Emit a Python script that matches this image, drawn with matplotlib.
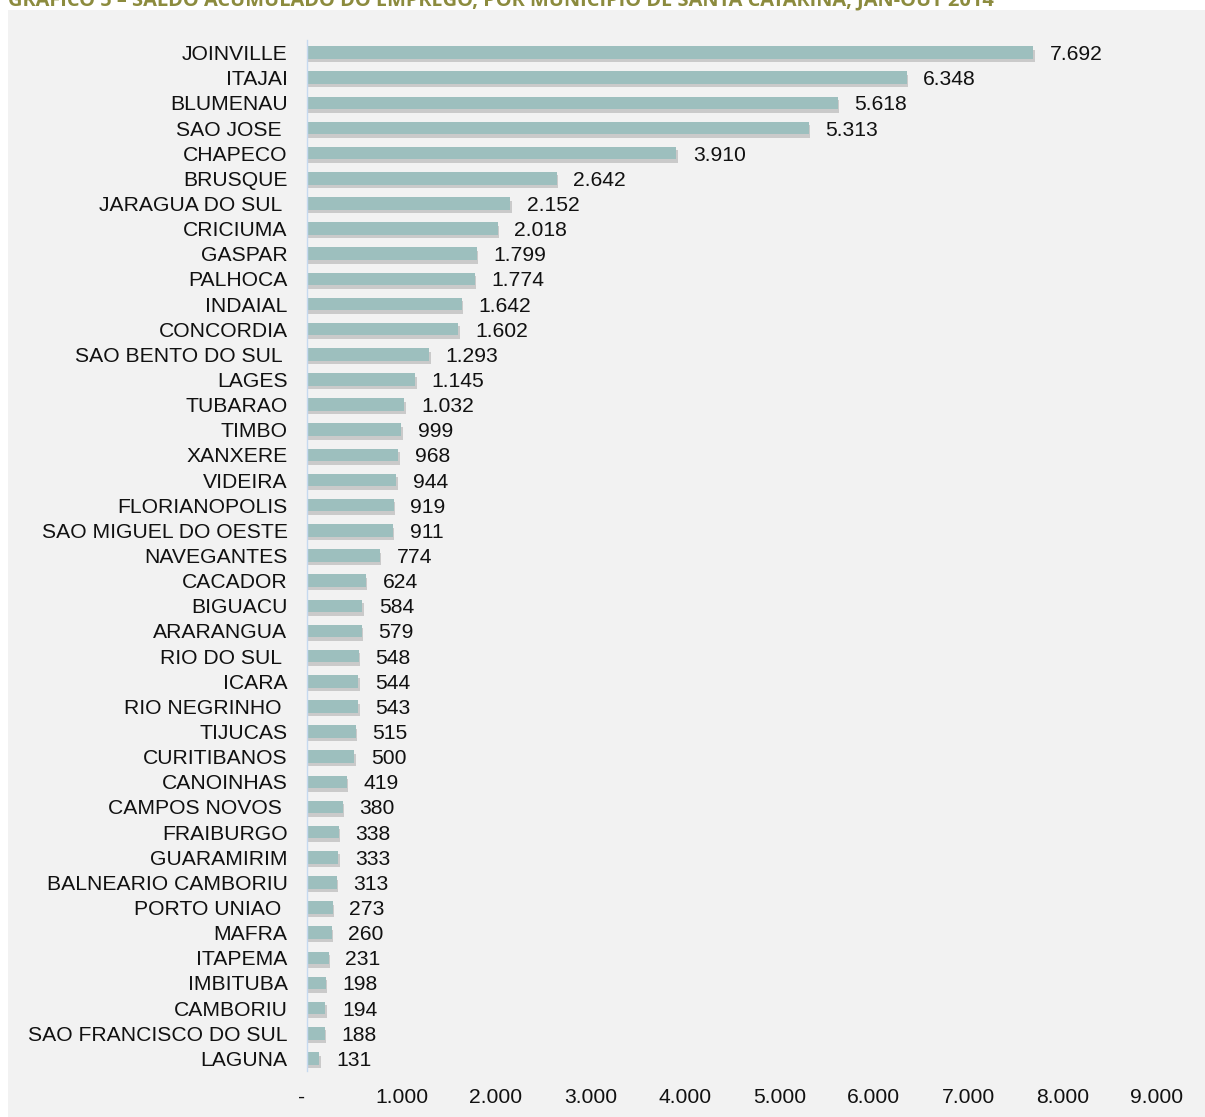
import matplotlib
matplotlib.use("Agg")
import matplotlib.pyplot as plt
import matplotlib.patheffects as pe
from matplotlib.ticker import FuncFormatter

municipios = ["JOINVILLE", "ITAJAI", "BLUMENAU", "SAO JOSE ", "CHAPECO", "BRUSQUE",
              "JARAGUA DO SUL ", "CRICIUMA", "GASPAR", "PALHOCA", "INDAIAL", "CONCORDIA",
              "SAO BENTO DO SUL ", "LAGES", "TUBARAO", "TIMBO", "XANXERE", "VIDEIRA",
              "FLORIANOPOLIS", "SAO MIGUEL DO OESTE", "NAVEGANTES", "CACADOR", "BIGUACU",
              "ARARANGUA", "RIO DO SUL ", "ICARA", "RIO NEGRINHO ", "TIJUCAS", "CURITIBANOS",
              "CANOINHAS", "CAMPOS NOVOS ", "FRAIBURGO", "GUARAMIRIM", "BALNEARIO CAMBORIU",
              "PORTO UNIAO ", "MAFRA", "ITAPEMA", "IMBITUBA", "CAMBORIU",
              "SAO FRANCISCO DO SUL", "LAGUNA"]
saldo = [7692, 6348, 5618, 5313, 3910, 2642, 2152, 2018, 1799, 1774, 1642, 1602,
         1293, 1145, 1032, 999, 968, 944, 919, 911, 774, 624, 584, 579, 548, 544,
         543, 515, 500, 419, 380, 338, 333, 313, 273, 260, 231, 198, 194, 188, 131]
xticks = [0, 1000, 2000, 3000, 4000, 5000, 6000, 7000, 8000, 9000]
titulo = "GRÁFICO 5 – SALDO ACUMULADO DO EMPREGO, POR MUNICÍPIO DE SANTA CATARINA, JAN-OUT 2014"

W, H = 1205, 1117
fig = plt.figure(figsize=(W / 100, H / 100), dpi=100)
fig.patch.set_facecolor("white")

# grey panel (background axes)
bg = fig.add_axes([8 / W, 0, 1 - 8 / W, 1 - 10 / H], zorder=-10)
bg.set_facecolor("#f2f2f2")
bg.set_xticks([])
bg.set_yticks([])
for s in bg.spines.values():
    s.set_visible(False)

fig.text(8 / W, 1 - 6 / H, titulo, fontsize=14.4, fontweight="bold", color="#8c8b3e",
         family="Open Sans", va="baseline", ha="left")

ax = fig.add_axes([307 / W, 1 - 1071 / H, (1157 - 307) / W, (1071 - 40) / H], zorder=1)
ax.set_facecolor("none")

FS = 15.2
ypos = list(range(len(saldo)))
bars = ax.barh(ypos, saldo, height=0.5, color="#9dbfbe", zorder=3)
for b in bars:
    b.set_path_effects([pe.SimplePatchShadow(offset=(1.0, -2.5), shadow_rgbFace="#808080", alpha=0.35),
                        pe.Normal()])

fmt = lambda v: f"{v:,.0f}".replace(",", ".")
for y, v in zip(ypos, saldo):
    ax.annotate(fmt(v), (v, y), xytext=(12, 0), textcoords="offset points",
                va="center_baseline", ha="left", fontsize=FS, family="Liberation Sans",
                color="#111111")

ax.set_xlim(0, 9000)
ax.set_ylim(40.5, -0.5)
ax.set_yticks(ypos)
ax.set_yticklabels(municipios, fontsize=FS, family="Liberation Sans", color="#111111",
                   va="center_baseline")
ax.set_xticks(xticks)
ax.xaxis.set_major_formatter(FuncFormatter(lambda v, p: "-  " if v == 0 else fmt(v)))
for lab in ax.get_xticklabels():
    lab.set_fontsize(FS)
    lab.set_family("Liberation Sans")
    lab.set_color("#111111")
ax.tick_params(axis="both", length=0)
ax.tick_params(axis="y", pad=14)
ax.tick_params(axis="x", pad=12)
for s in ["top", "right", "bottom"]:
    ax.spines[s].set_visible(False)
ax.spines["left"].set_color("#c6d9f0")
ax.spines["left"].set_linewidth(1.0)
ax.spines["left"].set_zorder(4)

fig.savefig("out.png", dpi=100, facecolor="white")
